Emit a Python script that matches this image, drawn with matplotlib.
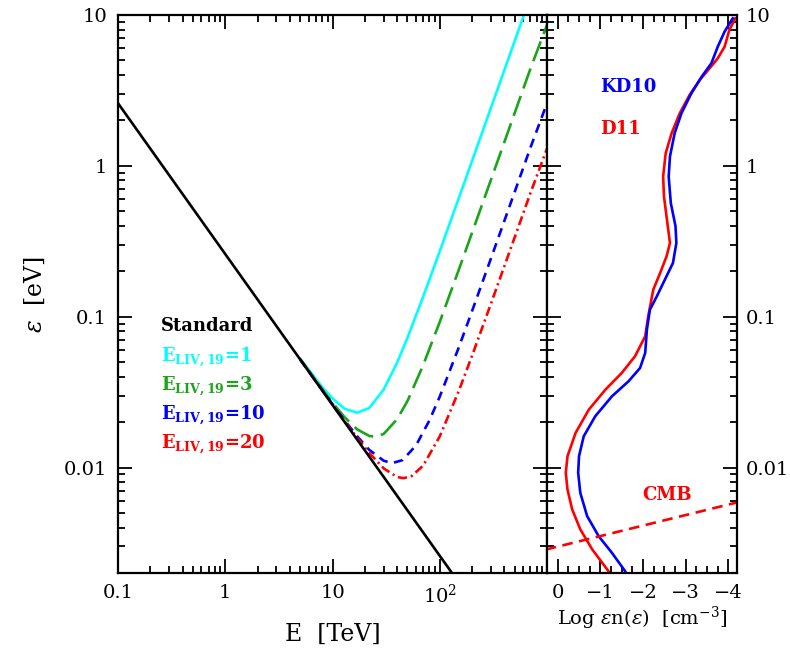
import matplotlib
matplotlib.use('Agg')
import matplotlib.pyplot as plt
from matplotlib.ticker import FixedLocator, FixedFormatter, LogLocator, MultipleLocator, NullFormatter

plt.rcParams['font.family'] = ['DejaVu Serif']
plt.rcParams['mathtext.fontset'] = 'dejavuserif'

# Threshold curves: E [TeV] vs epsilon [eV]
std_E = [0.1, 1, 10, 100, 130]
std_eps = [2.6, 0.26, 0.026, 0.0026, 0.002]

liv1_E = [5, 8, 10, 13, 17, 22, 30, 40, 50, 70, 100, 150, 200, 300, 500, 650]
liv1_eps = [0.0527, 0.0342, 0.0287, 0.0245, 0.0231, 0.0248, 0.0329, 0.0495,
            0.0725, 0.1355, 0.2716, 0.607, 1.077, 2.42, 6.725, 11.37]

liv3_E = [5, 8, 10, 13, 17, 22, 25, 30, 40, 50, 70, 100, 150, 200, 300, 500, 700, 1000]
liv3_eps = [0.0522, 0.0331, 0.0269, 0.0215, 0.0179, 0.0162, 0.0160, 0.0167,
            0.0209, 0.0276, 0.0477, 0.0923, 0.2035, 0.360, 0.807, 2.243, 4.395, 8.6]

liv10_E = [5, 8, 10, 13, 17, 22, 30, 36, 45, 60, 80, 100, 150, 200, 300, 500, 700, 1000]
liv10_eps = [0.052, 0.0327, 0.0263, 0.0205, 0.0161, 0.0131, 0.0111, 0.0107,
             0.0112, 0.0140, 0.0205, 0.0295, 0.0622, 0.1089, 0.243, 0.6725, 1.318, 2.6]

liv20_E = [5, 8, 10, 13, 17, 22, 30, 40, 46, 55, 70, 100, 150, 200, 300, 500, 700, 1000]
liv20_eps = [0.052, 0.0326, 0.0261, 0.0202, 0.0157, 0.0125, 0.00988, 0.00865,
             0.0085, 0.0088, 0.0103, 0.0161, 0.0320, 0.0551, 0.1219, 0.3363, 0.659, 1.3]

# Photon backgrounds: Log eps n(eps) [cm^-3] vs log10 epsilon [eV]
d11_logn = [-4.16, -4.02, -3.91, -3.75, -3.56, -3.33, -3.09, -2.86, -2.67, -2.53,
            -2.47, -2.49, -2.57, -2.63, -2.55, -2.40, -2.24, -2.12, -2.05, -1.81,
            -1.50, -1.12, -0.73, -0.42, -0.23, -0.19, -0.23, -0.34, -0.53, -0.81,
            -1.19]
d11_logeps = [0.978, 0.90, 0.79, 0.713, 0.647, 0.57, 0.47, 0.349, 0.217, 0.084,
              -0.071, -0.203, -0.38, -0.512, -0.60, -0.71, -0.82, -0.998, -1.13, -1.263,
              -1.373, -1.483, -1.616, -1.77, -1.925, -2.035, -2.146, -2.278, -2.41, -2.543,
              -2.687]

kd10_logn = [-4.10, -3.91, -3.75, -3.60, -3.37, -3.13, -2.90, -2.74, -2.63, -2.60,
             -2.65, -2.76, -2.78, -2.70, -2.51, -2.32, -2.16, -2.09, -2.05, -1.93,
             -1.66, -1.27, -0.88, -0.61, -0.50, -0.48, -0.53, -0.69, -0.96, -1.27,
             -1.58]
kd10_logeps = [0.978, 0.89, 0.79, 0.68, 0.59, 0.48, 0.349, 0.217, 0.062, -0.071,
               -0.247, -0.40, -0.512, -0.644, -0.755, -0.866, -0.954, -1.086, -1.24, -1.34,
               -1.428, -1.528, -1.66, -1.793, -1.925, -2.035, -2.168, -2.322, -2.455, -2.565,
               -2.687]

cmb_logn = [0.28, -4.2]
cmb_eps = [0.00286, 0.00587]

fig = plt.figure(figsize=(7.9, 6.52), dpi=100)
ax1 = fig.add_axes([0.1494, 0.1212, 0.5430, 0.8558])
ax2 = fig.add_axes([0.6924, 0.1212, 0.2405, 0.8558])

lw = 1.9
ax1.plot(liv1_E, liv1_eps, color='cyan', lw=lw)
ax1.plot(liv3_E, liv3_eps, color='#1aa51a', lw=lw, dashes=(8, 3))
ax1.plot(liv10_E, liv10_eps, color='blue', lw=lw, dashes=(3.5, 2.5))
ax1.plot(liv20_E, liv20_eps, color='red', lw=lw, dashes=(3.5, 1.5, 0.8, 1.5))
ax1.plot(std_E, std_eps, color='black', lw=lw)

ax1.set_xscale('log')
ax1.set_yscale('log')
ax1.set_xlim(0.1, 1000)
ax1.set_ylim(0.002, 10)

ax2.plot(d11_logn, [10**v for v in d11_logeps], color='red', lw=lw)
ax2.plot(kd10_logn, [10**v for v in kd10_logeps], color='blue', lw=lw)
ax2.plot(cmb_logn, cmb_eps, color='red', lw=lw, dashes=(4, 2.5))
ax2.set_yscale('log')
ax2.set_xlim(0.25, -4.2)
ax2.set_ylim(0.002, 10)

for ax in (ax1, ax2):
    for s in ax.spines.values():
        s.set_linewidth(1.6)
    ax.tick_params(which='both', direction='in', top=True, right=True, width=1.3, labelsize=14)
    ax.tick_params(which='major', length=10)
    ax.tick_params(which='minor', length=5)
    ax.yaxis.set_major_locator(FixedLocator([0.01, 0.1, 1, 10]))
    ax.yaxis.set_minor_locator(LogLocator(base=10, subs=range(2, 10)))
    ax.yaxis.set_minor_formatter(NullFormatter())

ax1.xaxis.set_major_locator(FixedLocator([0.1, 1, 10, 100, 1000]))
ax1.xaxis.set_major_formatter(FixedFormatter(['0.1', '1', '10', r'10$^{2}$', '']))
ax1.xaxis.set_minor_locator(LogLocator(base=10, subs=range(2, 10)))
ax1.xaxis.set_minor_formatter(NullFormatter())
ax1.yaxis.set_major_formatter(FixedFormatter(['0.01', '0.1', '1', '10']))
ax1.tick_params(axis='x', pad=8)
ax1.tick_params(axis='y', pad=8)

ax2.xaxis.set_major_locator(FixedLocator([0, -1, -2, -3, -4]))
ax2.xaxis.set_major_formatter(FixedFormatter(['0', '\u22121', '\u22122', '\u22123', '\u22124']))
ax2.xaxis.set_minor_locator(MultipleLocator(0.25))
ax2.tick_params(axis='y', labelleft=False, labelright=True, pad=6)
ax2.yaxis.set_major_formatter(FixedFormatter(['0.01', '0.1', '1', '10']))
ax2.tick_params(axis='x', pad=8)

ax1.set_xlabel('E  [TeV]', fontsize=17, labelpad=11)
ax1.set_ylabel(r'$\epsilon$  [eV]', fontsize=17, labelpad=12)
ax2.set_xlabel(r'Log $\epsilon$n($\epsilon$)  [cm$^{-3}$]', fontsize=14, labelpad=2)

tf = 13
ax1.text(0.1, 0.434, 'Standard', transform=ax1.transAxes, fontsize=tf, fontweight='bold', color='black')
ax1.text(0.1, 0.381, r'$\mathbf{E_{LIV,19}}$=1', transform=ax1.transAxes, fontsize=tf, fontweight='bold', color='cyan')
ax1.text(0.1, 0.329, r'$\mathbf{E_{LIV,19}}$=3', transform=ax1.transAxes, fontsize=tf, fontweight='bold', color='#1aa51a')
ax1.text(0.1, 0.277, r'$\mathbf{E_{LIV,19}}$=10', transform=ax1.transAxes, fontsize=tf, fontweight='bold', color='blue')
ax1.text(0.1, 0.225, r'$\mathbf{E_{LIV,19}}$=20', transform=ax1.transAxes, fontsize=tf, fontweight='bold', color='red')

ax2.text(0.28, 0.862, 'KD10', transform=ax2.transAxes, fontsize=tf, fontweight='bold', color='blue')
ax2.text(0.28, 0.787, 'D11', transform=ax2.transAxes, fontsize=tf, fontweight='bold', color='red')
ax2.text(0.50, 0.131, 'CMB', transform=ax2.transAxes, fontsize=tf, fontweight='bold', color='red')

plt.savefig('out.png', dpi=100)
